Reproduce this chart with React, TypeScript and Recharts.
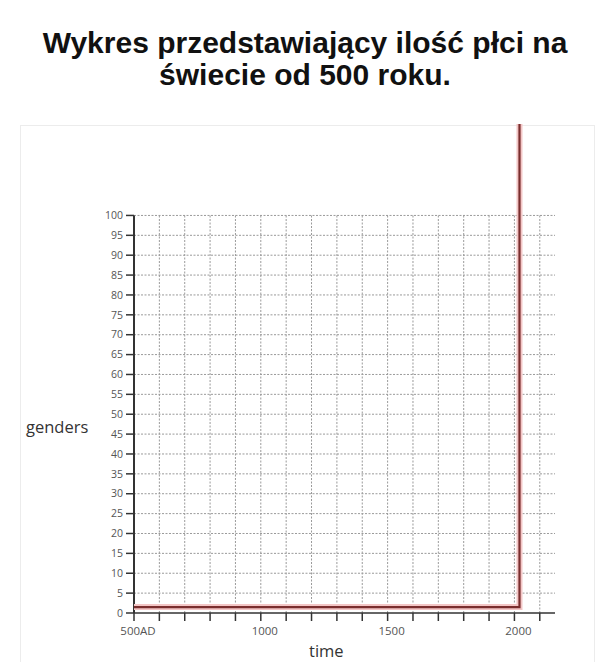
import React from "react";
import {
  LineChart,
  Line,
  XAxis,
  YAxis,
  CartesianGrid,
  ReferenceLine,
} from "recharts";

const titleLines = ["Wykres przedstawiający ilość płci na", "świecie od 500 roku."];
const yAxisLabel = "genders";
const xAxisLabel = "time";

const years = [500, 2020, 2020];
const genders = [1.5, 1.5, 123];

const xTicks = [500, 600, 700, 800, 900, 1000, 1100, 1200, 1300, 1400, 1500, 1600, 1700, 1800, 1900, 2000, 2100];
const xTickLabels: Record<number, string> = { 500: "500AD", 1000: "1000", 1500: "1500", 2000: "2000" };
const yTicks = [0, 5, 10, 15, 20, 25, 30, 35, 40, 45, 50, 55, 60, 65, 70, 75, 80, 85, 90, 95, 100];

const data = years.map((y, i) => ({ year: y, genders: genders[i] }));

const W = 600;
const H = 662;

export default function App() {
  return (
    <div style={{ position: "absolute", left: 0, top: 0, width: W, height: H, background: "#fff", overflow: "hidden" }}>
      <div
        style={{
          position: "absolute",
          left: 10,
          top: 27,
          width: 590,
          textAlign: "center",
          fontFamily: "'Liberation Sans', Arial, sans-serif",
          fontWeight: 700,
          fontSize: 30,
          lineHeight: "32px",
          color: "#111",
        }}
      >
        {titleLines.map((t) => (
          <div key={t}>{t}</div>
        ))}
      </div>
      <div
        style={{
          position: "absolute",
          left: 20,
          top: 125,
          width: 575,
          height: 560,
          border: "1px solid #ececec",
          boxSizing: "border-box",
        }}
      />
      <div style={{ position: "absolute", left: 0, top: 0 }}>
        <LineChart
          width={W}
          height={H}
          data={data}
          margin={{ top: 124, right: 45, bottom: 19, left: 94 }}
        >
          <CartesianGrid
            horizontal={true}
            vertical={false}
            stroke="#9a9a9a"
            strokeDasharray="2 1.5"
            strokeWidth={1}
            horizontalValues={yTicks.slice(1)}
          />
          {xTicks.slice(1).map((x) => (
            <ReferenceLine
              key={"v" + x}
              segment={[
                { x, y: 0 },
                { x, y: 100 },
              ]}
              stroke="#9a9a9a"
              strokeDasharray="2 1.5"
              strokeWidth={1}
              ifOverflow="visible"
            />
          ))}
          <XAxis
            dataKey="year"
            type="number"
            domain={[500, 2160]}
            ticks={xTicks}
            interval={0}
            allowDataOverflow
            tickFormatter={(v: number) => xTickLabels[v] ?? ""}
            tickSize={8}
            tickMargin={6}
            stroke="#333"
            strokeWidth={1.5}
            tick={{ fill: "#555", fontSize: 11.5, fontFamily: "'Open Sans', sans-serif", dx: 4 }}
            tickLine={{ stroke: "#333", strokeWidth: 1.5 }}
            height={30}
          />
          <YAxis
            dataKey="genders"
            type="number"
            domain={[0, 123]}
            ticks={yTicks}
            interval={0}
            axisLine={false}
            tickSize={8}
            tickMargin={3}
            width={40}
            tick={{ fill: "#555", fontSize: 10.5, fontFamily: "'Open Sans', sans-serif" }}
            tickLine={{ stroke: "#333", strokeWidth: 1.5 }}
          />
          <ReferenceLine
            segment={[
              { x: 500, y: 0 },
              { x: 500, y: 100 },
            ]}
            stroke="#333"
            strokeWidth={2}
            ifOverflow="visible"
          />
          <Line
            dataKey="genders"
            type="linear"
            stroke="#f3c6c6"
            strokeWidth={6}
            dot={false}
            activeDot={false}
            isAnimationActive={false}
          />
          <Line
            dataKey="genders"
            type="linear"
            stroke="#7a2e2e"
            strokeWidth={2.2}
            dot={false}
            activeDot={false}
            isAnimationActive={false}
          />
        </LineChart>
      </div>
      <div
        style={{
          position: "absolute",
          left: 26,
          top: 415,
          fontFamily: "'Open Sans', sans-serif",
          fontSize: 16.5,
          color: "#333",
        }}
      >
        {yAxisLabel}
      </div>
      <div
        style={{
          position: "absolute",
          left: 309,
          top: 639,
          fontFamily: "'Open Sans', sans-serif",
          fontSize: 16.5,
          color: "#333",
        }}
      >
        {xAxisLabel}
      </div>
    </div>
  );
}
